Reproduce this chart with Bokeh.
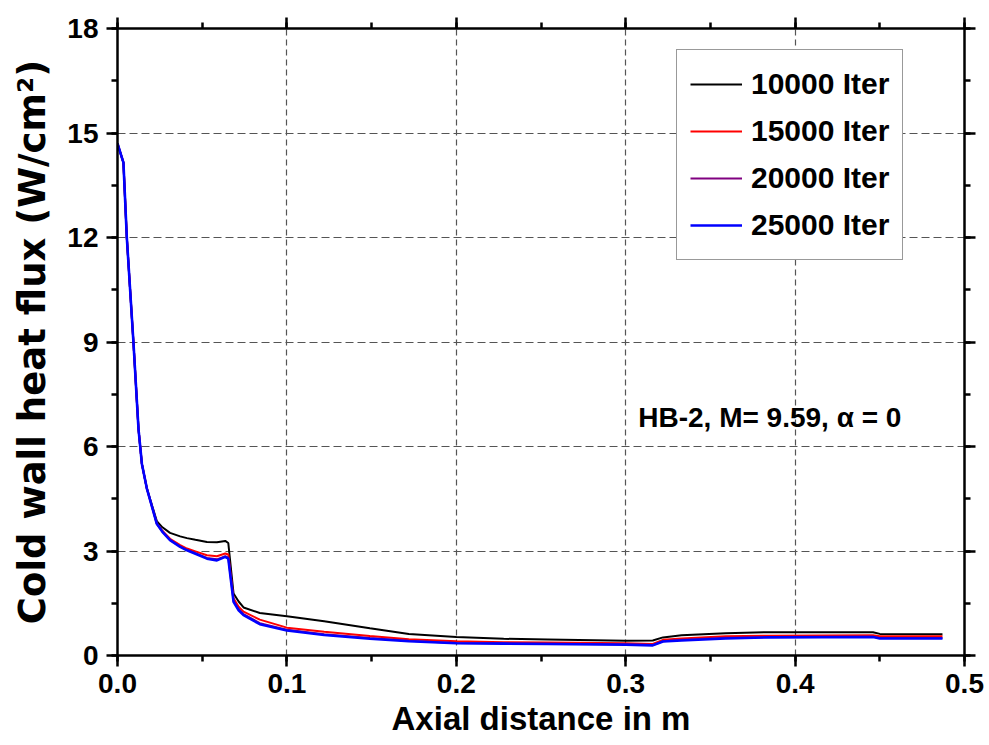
from bokeh.plotting import figure
from bokeh.models import (Range1d, LinearAxis, SingleIntervalTicker, NumeralTickFormatter,
                          Legend, LegendItem, Label)
from bokeh.embed import file_html
from bokeh.resources import INLINE

# ---------------- data ----------------
axial_x = [0.000, 0.0035, 0.0055, 0.0094, 0.0124, 0.0144, 0.0173, 0.0232, 0.0265, 0.031,
           0.037, 0.041, 0.046, 0.0528, 0.0587, 0.0636, 0.0654, 0.0685, 0.0715, 0.0744,
           0.084, 0.100, 0.122, 0.149, 0.172, 0.200, 0.228, 0.254, 0.300, 0.316,
           0.322, 0.333, 0.359, 0.385, 0.446, 0.450, 0.487]

flux_10000 = [14.70, 14.15, 12.0, 9.0, 6.5, 5.5, 4.8, 3.86, 3.68, 3.52,
              3.42, 3.37, 3.32, 3.26, 3.25, 3.29, 3.23, 1.78, 1.55, 1.38,
              1.22, 1.13, 0.98, 0.78, 0.62, 0.53, 0.48, 0.46, 0.42, 0.43,
              0.52, 0.58, 0.64, 0.67, 0.67, 0.62, 0.61]

flux_15000 = [14.70, 14.15, 12.0, 9.0, 6.5, 5.5, 4.8, 3.79, 3.58, 3.35,
              3.17, 3.07, 2.99, 2.88, 2.85, 2.93, 2.90, 1.64, 1.40, 1.26,
              1.03, 0.80, 0.68, 0.56, 0.47, 0.41, 0.38, 0.37, 0.35, 0.33,
              0.45, 0.49, 0.55, 0.57, 0.58, 0.55, 0.55]

flux_20000 = [14.70, 14.15, 12.0, 9.0, 6.5, 5.5, 4.8, 3.78, 3.56, 3.32,
              3.13, 3.03, 2.94, 2.80, 2.76, 2.85, 2.81, 1.57, 1.33, 1.19,
              0.93, 0.74, 0.61, 0.50, 0.42, 0.36, 0.35, 0.34, 0.32, 0.30,
              0.41, 0.45, 0.51, 0.53, 0.54, 0.50, 0.50]

flux_25000 = [14.70, 14.15, 12.0, 9.0, 6.5, 5.5, 4.8, 3.78, 3.55, 3.31,
              3.12, 3.02, 2.92, 2.78, 2.73, 2.83, 2.78, 1.54, 1.30, 1.16,
              0.90, 0.72, 0.59, 0.48, 0.41, 0.35, 0.34, 0.33, 0.31, 0.29,
              0.40, 0.43, 0.49, 0.52, 0.53, 0.49, 0.49]

series_labels = ["10000 Iter", "15000 Iter", "20000 Iter", "25000 Iter"]
series_colors = ["#000000", "#ff0000", "#800080", "#0000ff"]

x_label = "Axial distance in m"
y_label = "Cold wall heat flux (W/cm\u00b2)"
note_text = "HB-2, M= 9.59, \u03b1 = 0"

SANS = "Liberation Sans"
WIDE = "DejaVu Sans"

# ---------------- figure ----------------
p = figure(width=989, height=745, output_backend="svg", toolbar_location=None,
           x_range=Range1d(0, 0.5), y_range=Range1d(0, 18),
           min_border_left=117, min_border_right=25, min_border_top=28, min_border_bottom=90,
           x_axis_label=x_label, y_axis_label=y_label)
p.outline_line_color = None
p.background_fill_color = "white"
p.border_fill_color = "white"

xt = SingleIntervalTicker(interval=0.1, num_minor_ticks=2)
yt = SingleIntervalTicker(interval=3, num_minor_ticks=2)

def style_axis(ax, ticker, labels=True):
    ax.ticker = ticker
    ax.axis_line_width = 2.5
    ax.axis_line_color = "black"
    ax.major_tick_line_width = 2.5
    ax.minor_tick_line_width = 2.5
    ax.major_tick_in = 0
    ax.major_tick_out = 11
    ax.minor_tick_in = 0
    ax.minor_tick_out = 6
    ax.major_label_text_font = SANS
    ax.major_label_text_font_style = "bold"
    ax.major_label_text_font_size = "28px"
    ax.major_label_text_color = "black" if labels else None

style_axis(p.xaxis[0], xt)
style_axis(p.yaxis[0], yt)
p.xaxis[0].formatter = NumeralTickFormatter(format="0.0")
p.xaxis[0].major_label_standoff = 7
p.yaxis[0].major_label_standoff = 8

p.xaxis[0].axis_label_text_font = SANS
p.xaxis[0].axis_label_text_font_style = "bold"
p.xaxis[0].axis_label_text_font_size = "33px"
p.xaxis[0].axis_label_text_color = "black"
p.xaxis[0].axis_label_standoff = 4

p.yaxis[0].axis_label_text_font = WIDE
p.yaxis[0].axis_label_text_font_style = "bold"
p.yaxis[0].axis_label_text_font_size = "37px"
p.yaxis[0].axis_label_text_color = "black"
p.yaxis[0].axis_label_standoff = 10

top_ax = LinearAxis()
style_axis(top_ax, SingleIntervalTicker(interval=0.1, num_minor_ticks=2), labels=False)
right_ax = LinearAxis()
style_axis(right_ax, SingleIntervalTicker(interval=3, num_minor_ticks=2), labels=False)
p.add_layout(top_ax, "above")
p.add_layout(right_ax, "right")

p.xgrid.ticker = xt
p.ygrid.ticker = yt
p.xgrid.grid_line_color = "#555555"
p.xgrid.grid_line_dash = "6 4"
p.xgrid.grid_line_width = 1.2
p.ygrid.grid_line_color = "#555555"
p.ygrid.grid_line_dash = "8 4"
p.ygrid.grid_line_width = 1.2

# ---------------- curves ----------------
all_series = [flux_10000, flux_15000, flux_20000, flux_25000]
widths = [2.0, 2.0, 2.0, 2.6]
items = []
for vals, lab, col, w in zip(all_series, series_labels, series_colors, widths):
    r = p.line(axial_x, vals, line_color=col, line_width=w)
    items.append(LegendItem(label=lab, renderers=[r]))

legend = Legend(items=items, location=(559, 395))
legend.border_line_color = "#333333"
legend.border_line_width = 1.5
legend.background_fill_color = "white"
legend.background_fill_alpha = 1.0
legend.padding = 13
legend.margin = 0
legend.spacing = 5
legend.label_height = 42
legend.glyph_height = 42
legend.glyph_width = 52
legend.label_standoff = 9
legend.label_text_font = SANS
legend.label_text_font_style = "bold"
legend.label_text_font_size = "30px"
legend.label_text_color = "black"
p.add_layout(legend, "center")

note = Label(x=0.3074, y=6.84, text=note_text, text_font=SANS, text_font_style="bold",
             text_font_size="28px", text_color="black", text_baseline="alphabetic")
p.add_layout(note)

open("out.html", "w").write(file_html(p, INLINE))
